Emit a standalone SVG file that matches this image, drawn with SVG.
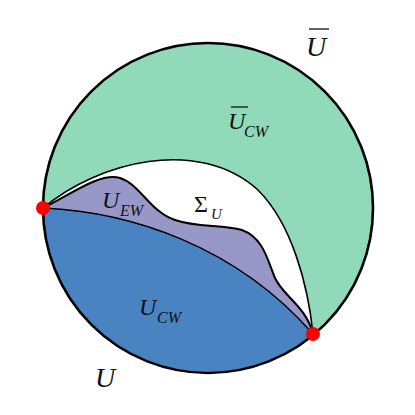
<svg xmlns="http://www.w3.org/2000/svg" width="415" height="415" viewBox="0 0 415 415">
<style>
.lbl{font-family:"Liberation Serif",serif;font-style:italic;fill:#111}
.up{font-family:"Liberation Serif",serif;fill:#111}
.bar{stroke:#111;stroke-width:1.3}
.edge{fill:none;stroke:#000;stroke-width:1.6}
</style>
<rect width="415" height="415" fill="#fff"/>
<g id="regions">
<circle id="ubar-cw" cx="208" cy="208" r="165" fill="#90dab9"/>
<path id="sigma-u" d="M43,208 C98,162 198,136 258,190 C292,224 308,285 313,334 A165,165 0 0 1 43,208 Z" fill="#fff"/>
<path id="u-ew" d="M43,208 C70,195 100,172 120,178 C140,184 150,212 175,220 C198,228 222,224 242,230 C264,238 268,262 275,278 C283,296 306,306 313,334 A165,165 0 0 1 43,208 Z" fill="#9898c8"/>
<path id="u-cw" d="M43,208 C130,212 235,245 313,334 A165,165 0 0 1 43,208 Z" fill="#4a83c2"/>
</g>
<g id="connectors">
<path class="edge" d="M43,208 C98,162 198,136 258,190 C292,224 308,285 313,334"/>
<path class="edge" d="M43,208 C70,195 100,172 120,178 C140,184 150,212 175,220 C198,228 222,224 242,230 C264,238 268,262 275,278 C283,296 306,306 313,334" style="stroke-width:2"/>
<path class="edge" d="M43,208 C130,212 235,245 313,334"/>
<circle cx="208" cy="208" r="165" fill="none" stroke="#000" stroke-width="2.6"/>
</g>
<g id="points">
<circle id="p1" cx="43" cy="208" r="7" fill="#f00"/>
<circle id="p2" cx="313" cy="334" r="7" fill="#f00"/>
</g>
<g id="labels">
<g id="lbl-ubar"><text class="lbl" x="306" y="56" font-size="28">U</text><line class="bar" x1="309" y1="29" x2="329" y2="29"/></g>
<text id="lbl-u" class="lbl" x="95" y="387" font-size="28">U</text>
<g id="lbl-ucw"><text class="lbl" x="139" y="315" font-size="24">U</text><text class="lbl" x="157" y="323" font-size="16">CW</text></g>
<g id="lbl-uew"><text class="lbl" x="102" y="208" font-size="24">U</text><text class="lbl" x="120" y="216" font-size="16">EW</text></g>
<g id="lbl-sigma"><text class="up" x="194" y="212" font-size="24">Σ</text><text class="lbl" x="211" y="219" font-size="15">U</text></g>
<g id="lbl-ubarcw"><text class="lbl" x="228" y="129" font-size="24">U</text><line class="bar" x1="231" y1="107" x2="248" y2="107"/><text class="lbl" x="244" y="137" font-size="16">CW</text></g>
</g>
</svg>
